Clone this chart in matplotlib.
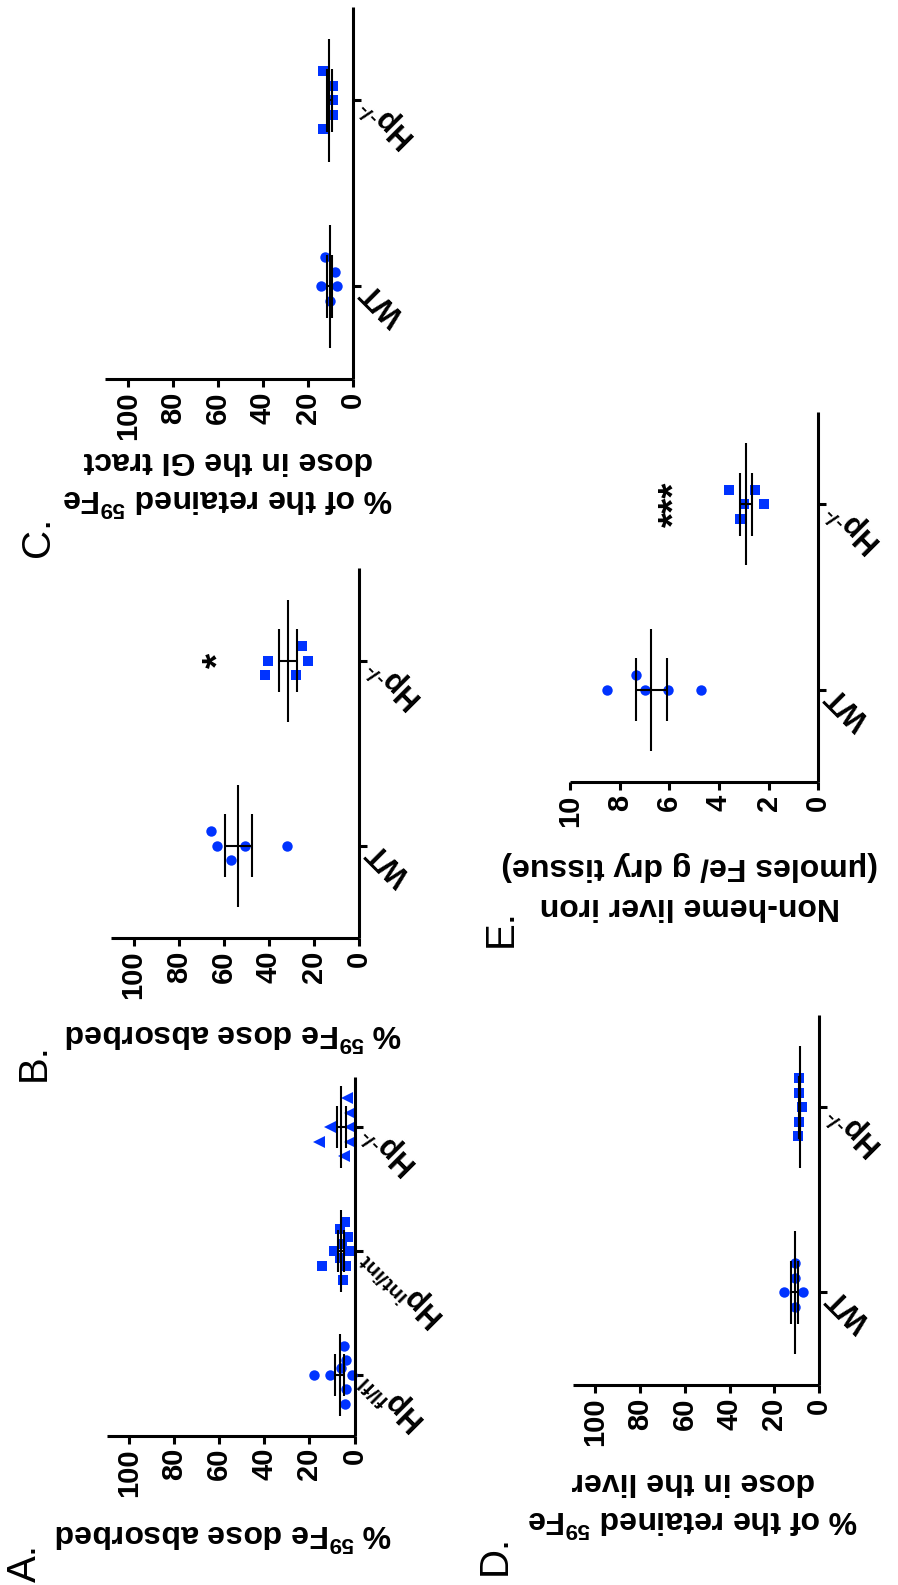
import numpy as np
import matplotlib
matplotlib.use("Agg")
import matplotlib.pyplot as plt

plt.rcParams['font.family'] = ['Liberation Sans', 'DejaVu Sans']
plt.rcParams['mathtext.fontset'] = 'custom'
plt.rcParams['mathtext.rm'] = 'Liberation Sans:bold'
plt.rcParams['mathtext.bf'] = 'Liberation Sans:bold'
plt.rcParams['mathtext.it'] = 'Liberation Sans:bold'

HY = "\u2010"  # hyphen, narrower than the math minus

# ---------------- data ----------------
# Panel A: % 59Fe dose absorbed
A_cats = [r"Hp$^{\mathbf{fl/fl}}$", r"Hp$^{\mathbf{int/int}}$", "Hp$^{%s/%s}$" % (HY, HY)]
A_flfl = [4.7, 3.6, 5.9, 18.1, 11.0, 1.0, 3.7, 4.4]
A_intint = [4.0, 6.5, 3.0, 5.5, 9.2, 2.1, 6.5, 14.3, 3.7, 5.0]
A_ko = [3.2, 1.8, 11.0, 1.8, 15.8, 2.1, 4.7]

# Panel B: % 59Fe dose absorbed
B_cats = ["WT", "Hp$^{%s/%s}$" % (HY, HY)]
B_wt = [65.7, 63.2, 50.4, 56.6, 31.8]
B_ko = [25.3, 40.3, 22.7, 41.5, 28.0]
B_sig = "*"

# Panel C: % of the retained 59Fe dose in the GI tract
C_cats = ["WT", "Hp$^{%s/%s}$" % (HY, HY)]
C_wt = [12.3, 8.0, 13.9, 7.1, 10.1]
C_ko = [13.0, 8.6, 8.6, 8.6, 13.4]

# Panel D: % of the retained 59Fe dose in the liver
D_cats = ["WT", "Hp$^{%s/%s}$" % (HY, HY)]
D_wt = [10.8, 10.8, 15.7, 7.1, 10.8]
D_ko = [9.0, 9.0, 7.6, 9.0, 9.5]

# Panel E: Non-heme liver iron (umoles Fe / g dry tissue)
E_cats = ["WT", "Hp$^{%s/%s}$" % (HY, HY)]
E_wt = [8.49, 7.36, 6.96, 6.07, 4.73]
E_ko = [3.61, 2.56, 3.01, 2.20, 3.16]
E_sig = "***"

pct_ticks = [0, 20, 40, 60, 80, 100]
iron_ticks = [0, 2, 4, 6, 8, 10]

# ---------------- layout / style ----------------
W, H = 898, 1585
fig = plt.figure(figsize=(W / 100, H / 100), dpi=100)
BLUE = '#0033ff'
FS = 23
FS_TICK = 21
FS_CAT = 22
LW_AX = 2.2
LW_BAR = 1.5
STEP_PX = 14.5


def make_axes(left, top, right, bottom):
    return fig.add_axes([left / W, 1 - bottom / H, (right - left) / W, (bottom - top) / H])


def panel(box, xmax, xticks, ylim, cats, groups, sig=None):
    left, top, right, bottom = box
    ax = make_axes(left, top, right, bottom)
    ax.set_xlim(xmax, 0)
    ax.set_ylim(*ylim)
    for s in ('top', 'left'):
        ax.spines[s].set_visible(False)
    for s in ('bottom', 'right'):
        ax.spines[s].set_linewidth(LW_AX)
        ax.spines[s].set_capstyle('butt')
    ax.set_xticks(xticks)
    ax.set_xticklabels([str(t) for t in xticks], rotation=90, ha='right', va='center',
                       rotation_mode='anchor', fontsize=FS_TICK, fontweight='bold')
    ax.tick_params(axis='x', direction='out', length=6, width=LW_AX, pad=3)
    ax.yaxis.tick_right()
    ax.set_yticks(range(len(cats)))
    ax.set_yticklabels(cats, rotation=135, ha='right', va='center',
                       rotation_mode='anchor', fontsize=FS_CAT, fontweight='bold')
    ax.tick_params(axis='y', direction='out', length=6, width=LW_AX, pad=4)
    px2data = (ylim[1] - ylim[0]) / (bottom - top)
    for i, (vals, offs, mk, ms) in enumerate(groups):
        vals = np.asarray(vals, float)
        yy = i - np.asarray(offs, float) * STEP_PX * px2data
        ax.plot(vals, yy, linestyle='none', marker=mk, ms=ms, color=BLUE,
                markeredgewidth=0, zorder=2, clip_on=False)
        m = vals.mean()
        sem = vals.std(ddof=1) / np.sqrt(len(vals))
        ax.vlines(m, i - 0.33, i + 0.33, color='black', lw=LW_BAR, zorder=3)
        ax.vlines([m - sem, m + sem], i - 0.17, i + 0.17, color='black', lw=LW_BAR, zorder=3)
        ax.hlines(i, m - sem, m + sem, color='black', lw=LW_BAR, zorder=3)
    if sig is not None:
        txt, xv, yi = sig
        ax.text(xv, yi, txt, rotation=90, ha='center', va='center', fontsize=28,
                fontweight='bold')
    return ax


def ylabel(x, y, lines, gap=38):
    # text is upside down: the first line sits lowest
    n = len(lines)
    for k, line in enumerate(lines):
        yy = y + (n - 1) * gap / 2 - k * gap
        fig.text(x / W, 1 - yy / H, line, rotation=180, ha='center', va='center',
                 rotation_mode='anchor', fontsize=FS, fontweight='bold')


def letter(x, y, txt):
    fig.text(x / W, 1 - y / H, txt, rotation=90, ha='center', va='center',
             rotation_mode='anchor', fontsize=29)


# Panel C (top-left)
panel((105.3, 7.1, 352.7, 379.3), 110, pct_ticks, (-0.5, 1.5), C_cats,
      [(C_wt, [-2, -1, 0, 0, 1], 'o', 7.5), (C_ko, [-2, -1, 0, 1, 2], 's', 7.5)])
ylabel(228, 479, ["% of the retained $^{59}$Fe", "dose in the GI tract"])
letter(38, 537, "C.")

# Panel B (middle-left)
panel((111, 568.3, 359, 938.3), 110, pct_ticks, (-0.5, 1.5), B_cats,
      [(B_wt, [-1, 0, 0, 1, 0], 'o', 7.5), (B_ko, [-1, 0, 0, 1, 1], 's', 7.5)],
      sig=(B_sig, 62.0, 1))
ylabel(234, 1033, ["% $^{59}$Fe dose absorbed"])
letter(34, 1062, "B.")

# Panel A (bottom-left)
panel((106.7, 1076.5, 354.5, 1435.5), 110, pct_ticks, (-0.49, 2.41), A_cats,
      [(A_flfl, [-2, -1, -0.5, 0, 0, 0, 1, 2], 'o', 7.5),
       (A_intint, [-2, -1.5, -1, -0.5, 0, 0, 0.5, 1, 1, 2], 's', 7.5),
       (A_ko, [-2, -1, 0, 0, 1, 1, 2], '<', 8.5)])
ylabel(224, 1533, ["% $^{59}$Fe dose absorbed"])
letter(25, 1563, "A.")

# Panel E (top-right)
panel((570, 411.7, 818.3, 782.3), 10, iron_ticks, (-0.5, 1.5), E_cats,
      [(E_wt, [0, -1, 0, 0, 0], 'o', 7.5), (E_ko, [-1, -1, 0, 0, 1], 's', 7.5)],
      sig=(E_sig, 5.74, 1))
ylabel(690, 886, ["Non-heme liver iron", "(\u03bcmoles Fe/ g dry tissue)"], gap=40)
letter(501, 928, "E.")

# Panel D (bottom-right)
panel((572.7, 1014.9, 819.3, 1385), 110, pct_ticks, (-0.5, 1.5), D_cats,
      [(D_wt, [-2, -1, 0, 0, 1], 'o', 7.5), (D_ko, [-2, -1, 0, 1, 2], 's', 7.5)])
ylabel(693, 1500, ["% of the retained $^{59}$Fe", "dose in the liver"])
letter(495, 1555, "D.")

fig.savefig("out.png", dpi=100)
